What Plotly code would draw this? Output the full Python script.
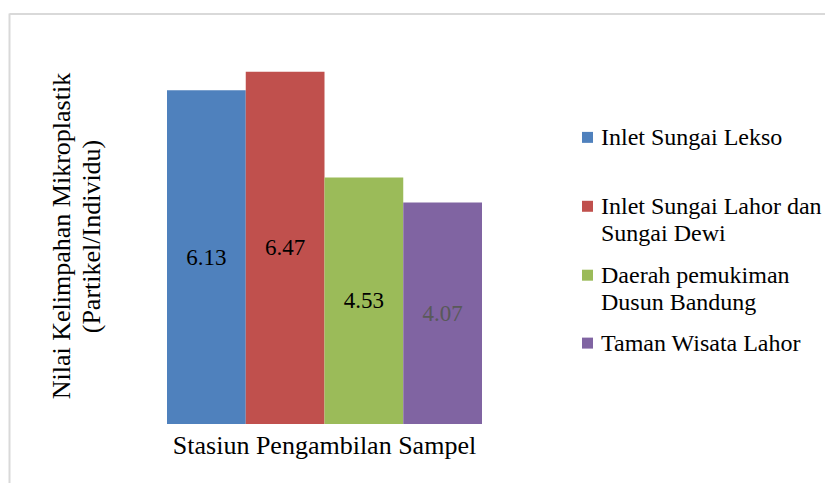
import plotly.graph_objects as go

# ---- data ----
category = ["Stasiun Pengambilan Sampel"]
series_names = [
    "Inlet Sungai Lekso",
    "Inlet Sungai Lahor dan Sungai Dewi",
    "Daerah pemukiman Dusun Bandung",
    "Taman Wisata Lahor",
]
legend_lines = [
    ["Inlet Sungai Lekso"],
    ["Inlet Sungai Lahor dan", "Sungai Dewi"],
    ["Daerah pemukiman", "Dusun Bandung"],
    ["Taman Wisata Lahor"],
]
values = [6.13, 6.47, 4.53, 4.07]
colors = ["#4f81bd", "#c0504d", "#9bbb59", "#8064a2"]
label_colors = ["#000000", "#000000", "#000000", "#595959"]
y_title_lines = ["Nilai Kelimpahan Mikroplastik", "(Partikel/Individu)"]

FONT = "Liberation Serif, Times New Roman, serif"
W, H = 833, 483
OFF = 8  # page body margin
L, R, T, B = 120, 320, 34.5, 67
PW, PH = W - L - R, H - T - B


def px2x(px):  # page pixel -> paper
    return (px - OFF - L) / PW


def py2y(py):  # page pixel -> paper
    return (H - B - (py - OFF)) / PH


fig = go.Figure()
for name, v, c, lc in zip(series_names, values, colors, label_colors):
    fig.add_trace(go.Bar(
        x=category, y=[v], name=name, marker_color=c, marker_line_width=0,
        text=[f"{v:.2f}"], textposition="inside", insidetextanchor="middle",
        textangle=0, textfont=dict(family=FONT, size=23, color=lc),
        showlegend=False,
    ))

annotations = []
shapes = []
# custom legend
item_line_y = [[137], [206, 233], [275, 302], [343]]
for lines, ys, c in zip(legend_lines, item_line_y, colors):
    shapes.append(dict(type="rect", xref="paper", yref="paper",
                       x0=px2x(582), x1=px2x(593),
                       y0=py2y(ys[0] - 5.5), y1=py2y(ys[0] + 5.5),
                       fillcolor=c, line_width=0))
    for txt, yy in zip(lines, ys):
        annotations.append(dict(text=txt, xref="paper", yref="paper",
                                x=px2x(599), y=py2y(yy), xanchor="left",
                                yanchor="middle", showarrow=False,
                                font=dict(family=FONT, size=24, color="#000000")))

# y axis title
for txt, xx in zip(y_title_lines, [61, 91]):
    annotations.append(dict(text=txt, xref="paper", yref="paper",
                            x=px2x(xx), y=py2y(236), textangle=-90,
                            xanchor="center", yanchor="middle", showarrow=False,
                            font=dict(family=FONT, size=26, color="#000000")))

# outer chart border (top and left visible)
shapes.append(dict(type="line", xref="paper", yref="paper",
                   x0=px2x(9.5), x1=px2x(W + 20), y0=py2y(13.5), y1=py2y(13.5),
                   line=dict(color="#d9d9d9", width=2)))
shapes.append(dict(type="line", xref="paper", yref="paper",
                   x0=px2x(9.5), x1=px2x(9.5), y0=py2y(13), y1=py2y(H + 20),
                   line=dict(color="#d9d9d9", width=2)))

fig.update_layout(
    width=W, height=H,
    margin=dict(l=L, r=R, t=T, b=B, pad=0),
    paper_bgcolor="white", plot_bgcolor="white",
    barmode="group", bargap=1 - 315 / PW, bargroupgap=0,
    font=dict(family=FONT, size=24, color="#000000"),
    xaxis=dict(showgrid=False, zeroline=False, showline=False, ticks="",
               ticklabelstandoff=3,
               tickfont=dict(family=FONT, size=26, color="#000000")),
    yaxis=dict(range=[0, 7], showgrid=False, zeroline=False, showline=False,
               showticklabels=False, ticks=""),
    annotations=annotations, shapes=shapes,
    uniformtext=dict(mode=False),
)

fig.write_html("out.html")
